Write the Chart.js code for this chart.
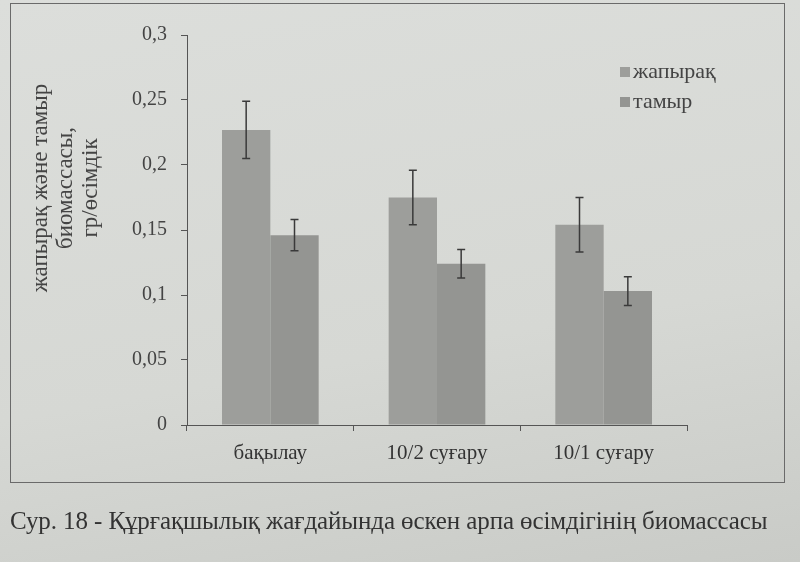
<!DOCTYPE html>
<html>
<head>
<meta charset="utf-8">
<script src="https://cdn.jsdelivr.net/npm/chart.js@4"></script>
<style>
  html, body { margin: 0; padding: 0; }
  body {
    width: 800px; height: 562px; overflow: hidden; position: relative;
    background: linear-gradient(170deg, #dcdedb 0%, #d6d8d4 60%, #c9cbc7 100%);
    font-family: "Liberation Serif", "DejaVu Serif", serif;
  }
  #frame {
    position: absolute; left: 10px; top: 3px; width: 775px; height: 480px;
    border: 1px solid #6a6a6a; box-sizing: border-box;
  }
  #wrap { position: absolute; left: 0; top: 0; width: 800px; height: 562px; }
  #caption {
    position: absolute; left: 10px; top: 507px; font-size: 25px; color: #333;
    white-space: nowrap; letter-spacing: -0.1px;
  }
</style>
</head>
<body>
<div id="frame"></div>
<div id="wrap"><canvas id="chart" width="800" height="562"></canvas></div>
<div id="caption">Сур. 18 - Құрғақшылық жағдайында өскен арпа өсімдігінің биомассасы</div>
<script>
const categories = ["бақылау", "10/2 суғару", "10/1 суғару"];
const seriesNames = ["жапырақ", "тамыр"];
const leafValues = [0.227, 0.175, 0.154];
const rootValues = [0.146, 0.124, 0.103];
const leafErrors = [0.022, 0.021, 0.021];
const rootErrors = [0.012, 0.011, 0.011];
const yTicks = [0, 0.05, 0.1, 0.15, 0.2, 0.25, 0.3];
const yTitle = ["жапырақ және тамыр", "биомассасы,", "гр/өсімдік"];

const errorsByDataset = [leafErrors, rootErrors];

// whiskers drawn through the y scale, centred on each bar
const errorBars = {
  id: "errorBars",
  afterDatasetsDraw(chart) {
    const { ctx } = chart;
    const y = chart.scales.y;
    chart.data.datasets.forEach((ds, di) => {
      const meta = chart.getDatasetMeta(di);
      meta.data.forEach((bar, i) => {
        const v = ds.data[i], e = errorsByDataset[di][i];
        const top = y.getPixelForValue(v + e);
        const bot = y.getPixelForValue(v - e);
        ctx.save();
        ctx.strokeStyle = "#3a3a3a";
        ctx.lineWidth = 1.5;
        ctx.beginPath();
        ctx.moveTo(bar.x, top); ctx.lineTo(bar.x, bot);
        ctx.moveTo(bar.x - 4, top); ctx.lineTo(bar.x + 4, top);
        ctx.moveTo(bar.x - 4, bot); ctx.lineTo(bar.x + 4, bot);
        ctx.stroke();
        ctx.restore();
      });
    });
  }
};

// legend sits inside the plot, top right, stacked
const innerLegend = {
  id: "innerLegend",
  afterDraw(chart) {
    const { ctx } = chart;
    const x0 = 620, y0 = 72;
    ctx.save();
    ctx.font = '22px "Liberation Serif", serif';
    ctx.textBaseline = "middle";
    chart.data.datasets.forEach((ds, i) => {
      const yy = y0 + i * 30;
      ctx.fillStyle = ds.backgroundColor;
      ctx.fillRect(x0, yy - 5, 10, 10);
      ctx.fillStyle = "#444";
      ctx.fillText(ds.label, x0 + 13, yy);
    });
    ctx.restore();
  }
};

// y title sits higher than the axis middle in the original, so draw it by hand
const yTitlePlugin = {
  id: "yTitlePlugin",
  afterDraw(chart) {
    const { ctx } = chart;
    ctx.save();
    ctx.translate(66, 188);
    ctx.rotate(-Math.PI / 2);
    ctx.font = '23px "Liberation Serif", serif';
    ctx.fillStyle = "#444";
    ctx.textAlign = "center";
    ctx.textBaseline = "middle";
    yTitle.forEach((t, i) => ctx.fillText(t, 0, (i - 1) * 25));
    ctx.restore();
  }
};

new Chart(document.getElementById("chart"), {
  type: "bar",
  data: {
    labels: categories,
    datasets: [
      { label: seriesNames[0], data: leafValues, backgroundColor: "#9d9e9b" },
      { label: seriesNames[1], data: rootValues, backgroundColor: "#949592" }
    ]
  },
  options: {
    responsive: false,
    animation: false,
    layout: { padding: { left: 10, right: 113, top: 35, bottom: 0 } },
    datasets: { bar: { categoryPercentage: 0.58, barPercentage: 1.0 } },
    plugins: { legend: { display: false }, tooltip: { enabled: false } },
    scales: {
      x: {
        grid: { offset: true, drawOnChartArea: false, tickLength: 6, color: "#555" },
        border: { color: "#555", width: 1 },
        ticks: { color: "#333", padding: 10, font: { family: "Liberation Serif", size: 21 } },
        afterFit(s) { s.height = 137; }
      },
      y: {
        min: 0, max: 0.3,
        afterBuildTicks(s) { s.ticks = yTicks.map(v => ({ value: v })); },
        grid: { drawOnChartArea: false, tickLength: 6, color: "#555" },
        border: { color: "#555", width: 1 },
        ticks: {
          color: "#444", padding: 14,
          font: { family: "Liberation Serif", size: 20 },
          callback: v => String(+v.toFixed(2)).replace(".", ",")
        },
        afterFit(s) { s.width = 177; }
      }
    }
  },
  plugins: [errorBars, innerLegend, yTitlePlugin]
});
</script>
</body>
</html>
